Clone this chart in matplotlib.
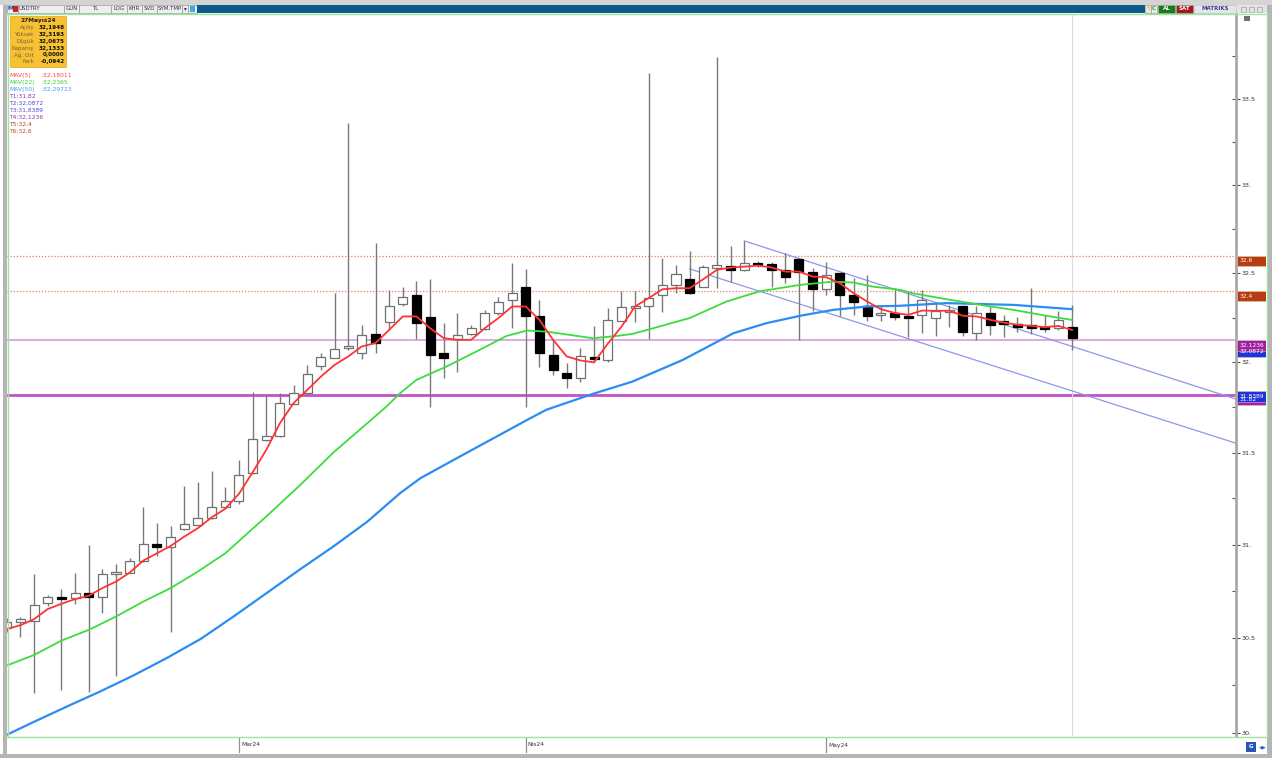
import math
import numpy as np
import matplotlib
matplotlib.use("Agg")
import matplotlib.pyplot as plt
from matplotlib.patches import Rectangle
from matplotlib.lines import Line2D
from matplotlib.ticker import FixedLocator, FixedFormatter, NullFormatter

# ------------------------------------------------------------------ data
month_ticks = [17, 38, 60]
month_labels = ["Mar24", "Nis24", "May24"]

opens = [30.552, 30.584, 30.591, 30.686, 30.716, 30.712, 30.739, 30.716, 30.842, 30.848,
         30.909, 31.005, 30.986, 31.086, 31.108, 31.145, 31.204, 31.235, 31.391, 31.570,
         31.592, 31.769, 31.828, 31.980, 32.026, 32.078, 32.050, 32.160, 32.224, 32.324,
         32.378, 32.254, 32.050, 32.130, 32.157, 32.185, 32.275, 32.350, 32.424, 32.260,
         32.039, 31.939, 31.915, 32.026, 32.010, 32.233, 32.303, 32.313, 32.376, 32.433,
         32.467, 32.424, 32.532, 32.542, 32.520, 32.560, 32.551, 32.519, 32.581, 32.509,
         32.409, 32.503, 32.376, 32.312, 32.265, 32.275, 32.256, 32.263, 32.247, 32.285,
         32.312, 32.166, 32.278, 32.233, 32.215, 32.209, 32.199, 32.190, 32.1948]
highs = [30.607, 30.614, 30.842, 30.727, 30.762, 30.849, 30.998, 30.869, 30.896, 30.929,
         31.203, 31.116, 31.101, 31.319, 31.337, 31.397, 31.312, 31.461, 31.837, 31.818,
         31.831, 31.874, 31.985, 32.050, 32.387, 33.363, 32.207, 32.673, 32.406, 32.424,
         32.458, 32.468, 32.218, 32.275, 32.209, 32.293, 32.364, 32.557, 32.523, 32.346,
         32.125, 31.998, 32.078, 32.205, 32.305, 32.397, 32.397, 33.655, 32.585, 32.544,
         32.627, 32.549, 33.749, 32.652, 32.684, 32.571, 32.566, 32.613, 32.585, 32.528,
         32.562, 32.505, 32.472, 32.490, 32.321, 32.415, 32.397, 32.406, 32.340, 32.321,
         32.321, 32.312, 32.312, 32.265, 32.252, 32.415, 32.265, 32.289, 32.3193]
lows = [30.532, 30.507, 30.210, 30.671, 30.225, 30.682, 30.216, 30.635, 30.299, 30.846,
        30.905, 30.936, 30.534, 31.080, 31.105, 31.140, 31.197, 31.221, 31.385, 31.565,
        31.588, 31.767, 31.825, 31.958, 32.024, 32.068, 32.017, 32.050, 32.181, 32.317,
        32.132, 31.754, 31.911, 31.948, 32.153, 32.181, 32.265, 32.190, 31.754, 31.973,
        31.928, 31.858, 31.892, 32.004, 32.004, 32.230, 32.226, 32.128, 32.282, 32.387,
        32.383, 32.421, 32.415, 32.452, 32.515, 32.536, 32.424, 32.447, 32.125, 32.289,
        32.378, 32.260, 32.265, 32.228, 32.228, 32.237, 32.143, 32.166, 32.147, 32.196,
        32.147, 32.125, 32.153, 32.143, 32.171, 32.158, 32.171, 32.181, 32.0675]
closes = [30.584, 30.600, 30.677, 30.718, 30.707, 30.742, 30.721, 30.844, 30.852, 30.909,
          31.005, 30.989, 31.041, 31.110, 31.146, 31.203, 31.235, 31.380, 31.575, 31.592,
          31.773, 31.831, 31.935, 32.028, 32.073, 32.087, 32.151, 32.108, 32.312, 32.363,
          32.222, 32.041, 32.023, 32.151, 32.192, 32.278, 32.340, 32.387, 32.260, 32.054,
          31.958, 31.915, 32.036, 32.017, 32.234, 32.308, 32.316, 32.359, 32.433, 32.494,
          32.387, 32.533, 32.548, 32.517, 32.557, 32.545, 32.519, 32.481, 32.509, 32.409,
          32.490, 32.378, 32.340, 32.260, 32.275, 32.252, 32.250, 32.346, 32.284, 32.289,
          32.171, 32.278, 32.209, 32.213, 32.199, 32.190, 32.185, 32.237, 32.1333]

ma5 = [30.547, 30.568, 30.600, 30.654, 30.682, 30.707, 30.725, 30.766, 30.801, 30.849,
       30.914, 30.953, 30.993, 31.043, 31.089, 31.147, 31.194, 31.275, 31.392, 31.515,
       31.662, 31.773, 31.846, 31.920, 31.985, 32.032, 32.088, 32.107, 32.181, 32.256,
       32.256, 32.190, 32.134, 32.125, 32.125, 32.190, 32.247, 32.312, 32.312, 32.237,
       32.125, 32.032, 32.010, 31.999, 32.103, 32.198, 32.312, 32.359, 32.409, 32.415,
       32.415, 32.466, 32.519, 32.532, 32.537, 32.543, 32.532, 32.509, 32.509, 32.481,
       32.477, 32.443, 32.387, 32.340, 32.297, 32.276, 32.265, 32.289, 32.288, 32.288,
       32.260, 32.256, 32.237, 32.222, 32.209, 32.203, 32.196, 32.203, 32.180]

ma22_x = [0, 2, 4, 6, 8, 10, 12, 14, 16, 19, 21.5, 23.9, 26.4, 27.8, 28.8, 30, 32.2, 34.6,
          36.6, 38.1, 39.5, 41.2, 42.9, 44.7, 45.8, 47.1, 50, 52.7, 55.1, 58.1, 60.5, 62,
          63.4, 65.4, 66.3, 68.8, 71.3, 73.7, 76.1, 78]
ma22_v = [30.354, 30.410, 30.486, 30.543, 30.614, 30.694, 30.766, 30.855, 30.953, 31.152,
          31.324, 31.500, 31.662, 31.754, 31.828, 31.902, 31.976, 32.068, 32.147, 32.177,
          32.171, 32.153, 32.134, 32.147, 32.158, 32.185, 32.247, 32.340, 32.397, 32.434,
          32.452, 32.447, 32.424, 32.406, 32.387, 32.353, 32.321, 32.293, 32.260, 32.2365]

ma50_x = [0, 1.9, 4.4, 6.8, 9.2, 11.7, 14.2, 16.6, 18.5, 21.5, 23.9, 26.4, 28.8, 30.3,
          33.2, 38.1, 39.5, 42.9, 45.8, 49.5, 53.2, 55.6, 58.1, 60.5, 63.0, 65.4, 68.8,
          73.7, 78]
ma50_v = [29.990, 30.055, 30.138, 30.216, 30.299, 30.393, 30.495, 30.614, 30.712, 30.868,
          30.989, 31.124, 31.279, 31.361, 31.480, 31.680, 31.736, 31.824, 31.892, 32.013,
          32.162, 32.218, 32.260, 32.293, 32.312, 32.316, 32.331, 32.321, 32.297]

# channel (trend) lines: start/end points
upper_x = [54, 90]
upper_y = [32.683, 31.795]
lower_x = [50, 90]
lower_y = [32.524, 31.552]

# level lines
T1, T2, T3, T4, T5, T6 = 31.82, 32.0872, 31.8389, 32.1236, 32.4, 32.6

y_major = [30.0, 30.5, 31.0, 31.5, 32.0, 32.5, 33.0, 33.5]
y_major_labels = ["30.", "30.5", "31.", "31.5", "32.", "32.5", "33.", "33.5"]
y_minor = [30.25, 30.75, 31.25, 31.75, 32.25, 32.75, 33.25, 33.75]

info_labels = ["Açılış", "Yüksek", "Düşük", "Kapanış", "Ağ. Ort", "Fark"]
info_values = ["32,1948", "32,3193", "32,0675", "32,1333", "0,0000", "-0,0942"]

# ------------------------------------------------------------------ figure
W, H = 1272, 758
fig = plt.figure(figsize=(W / 100, H / 100), dpi=100)
fig.patch.set_facecolor("white")


def fx(x):
    return x / W


def fy(y):
    return 1 - y / H


def frect(x, y, w, h, **kw):
    r = Rectangle((fx(x), fy(y + h)), w / W, h / H, transform=fig.transFigure, **kw)
    fig.add_artist(r)
    return r


def ftext(x, y, s, **kw):
    kw.setdefault("va", "center")
    return fig.text(fx(x), fy(y), s, **kw)


def fline(xs, ys, **kw):
    fig.add_artist(Line2D([fx(v) for v in xs], [fy(v) for v in ys],
                          transform=fig.transFigure, **kw))


PL, PR, PT, PB = 7, 1236, 14, 736
YMIN, YMAX = 29.984, 34.0
ax = fig.add_axes([fx(PL), fy(PB), (PR - PL) / W, (PB - PT) / H])
ax.set_yscale("log")
ax.set_ylim(YMIN, YMAX)
ax.set_xlim(0.02, 90)
px_per_ln = (PB - PT) / math.log(YMAX / YMIN)

# level lines
ax.axhline(T6, color="#d9805f", lw=0.9, ls=(0, (1, 1.5)), zorder=1)
ax.axhline(T5, color="#d9805f", lw=0.9, ls=(0, (1, 1.5)), zorder=1)
ax.axhline(T4, color="#e2a6e6", lw=1.4, zorder=1)
ax.axhline(T1, color="#c252c8", lw=2.0, zorder=1)
ax.axvline(78, color="#dcdcdc", lw=0.8, zorder=1)
ax.plot(upper_x, upper_y, color="#8d98e6", lw=0.9, zorder=2)
ax.plot(lower_x, lower_y, color="#8d98e6", lw=0.9, zorder=2)

# candles
n = len(closes)
bw = 0.66
kmin = math.exp(2.0 / px_per_ln)
for i in range(n):
    o, h, l, c = opens[i], highs[i], lows[i], closes[i]
    ax.vlines(i, l, h, color="#7a7a7a", lw=1.0, zorder=3)
    top, bot = max(o, c), min(o, c)
    if top / bot < kmin:
        mid = math.sqrt(top * bot)
        top, bot = mid * math.sqrt(kmin), mid / math.sqrt(kmin)
    up = c >= o
    ax.add_patch(Rectangle((i - bw / 2, bot), bw, top - bot,
                           facecolor="white" if up else "black",
                           edgecolor="#707070" if up else "black",
                           lw=0.9, zorder=4))

# moving averages
ax.plot(ma50_x, ma50_v, color="#2b8cf5", lw=1.6, zorder=5)
ax.plot(ma22_x, ma22_v, color="#3ddc3d", lw=1.3, zorder=5)
ax.plot(range(n), ma5, color="#ff3333", lw=1.3, zorder=6)

# axes styling
for s in ["left", "top", "bottom"]:
    ax.spines[s].set_visible(False)
ax.spines["right"].set_color("#a9a9a9")
ax.spines["right"].set_linewidth(2)
ax.yaxis.tick_right()
ax.yaxis.set_major_locator(FixedLocator(y_major))
ax.yaxis.set_major_formatter(FixedFormatter(y_major_labels))
ax.yaxis.set_minor_locator(FixedLocator(y_minor))
ax.yaxis.set_minor_formatter(NullFormatter())
ax.tick_params(axis="y", which="major", direction="inout", length=6, width=0.8,
               color="#555555", labelsize=4.6, labelcolor="#333333", pad=1)
ax.tick_params(axis="y", which="minor", direction="in", length=3, width=0.8,
               color="#555555")
ax.tick_params(axis="x", bottom=False, labelbottom=False)

# month labels in the date strip
xt = ax.get_xaxis_transform()
for m, lab in zip(month_ticks, month_labels):
    ax.plot([m, m], [-2 / 722, -16 / 722], transform=xt, color="#909090", lw=0.9,
            clip_on=False)
    ax.annotate(lab, xy=(m, -9 / 722), xycoords=xt, xytext=(2, 0),
                textcoords="offset pixels", fontsize=4.3, color="#333333",
                va="center", ha="left", annotation_clip=False)

# right-side value boxes
lab_ax = fig.add_axes([fx(PR), fy(PB), 30 / W, (PB - PT) / H])
lab_ax.set_yscale("log")
lab_ax.set_ylim(YMIN, YMAX)
lab_ax.set_xlim(0, 30)
lab_ax.axis("off")
boxes = [(T1, "31.82", "#a01fb0"), (T2, "32.0872", "#1f33d6"), (T3, "31.8389", "#1f33d6"),
         (T4, "32.1236", "#9c1fa6"), (T5, "32.4", "#b83c12"), (T6, "32.6", "#b83c12")]
fac = math.exp(-10.5 / px_per_ln)
for val, txt, col in boxes:
    bot = val * fac
    lab_ax.add_patch(Rectangle((1.2, bot), 28.8, val - bot, facecolor=col,
                               edgecolor="#e8c0a0", lw=0.4))
    lab_ax.text(3.5, math.sqrt(val * bot), txt, color="white", fontsize=4.3,
                va="center", ha="left")

# ------------------------------------------------------------------ frame
frect(0, 0, W, 5, facecolor="#d4d4d4", edgecolor="none")
frect(3, 5, 4, 750, facecolor="#b5b5b5", edgecolor="none")
frect(1267, 5, 5, 750, facecolor="#b5b5b5", edgecolor="none")
frect(0, 754, W, 4, facecolor="#b5b5b5", edgecolor="none")
fline([7.5, 7.5], [13, 736.5], color="#9ee49e", lw=1.0)
fline([1266.5, 1266.5], [13, 736.5], color="#9ee49e", lw=1.0)
fline([7, 1267], [736.5, 736.5], color="#9ee49e", lw=1.0)
fline([7, 1267], [13.5, 13.5], color="#9ee49e", lw=1.0)

# toolbar
buttons = [(7, 18, ""), (18, 64, "USDTRY"), (64, 79, "GUN"), (79, 111, "TL"),
           (111, 127, "LOG"), (127, 142, "KHR"), (142, 157, "SVD"),
           (157, 182, "SYM.TMP"), (182, 188, "▾"), (188, 197, "")]
for x0, x1, t in buttons:
    frect(x0, 5, x1 - x0, 8, facecolor="#eeeeee", edgecolor="#9a9a9a", lw=0.5)
    if t:
        ftext((x0 + x1) / 2 if t != "USDTRY" else x0 + 11, 9, t, fontsize=4.0,
              color="#303050", ha="center")
ftext(10, 9, "M", fontsize=4.4, color="#2040a0", ha="center", fontweight="bold")
frect(13, 6.5, 5, 5, facecolor="#d02020", edgecolor="none")
frect(190, 6.5, 5, 5, facecolor="#40a8e8", edgecolor="none")
frect(197, 5, 948, 8, facecolor="#0c5a8a", edgecolor="none")
frect(1145, 5, 6, 8, facecolor="#e8e8d8", edgecolor="#9a9a9a", lw=0.5)
ftext(1148, 9, "ϟ", fontsize=4.5, color="#f0a000", ha="center")
frect(1151, 5, 6, 8, facecolor="#e8e8e8", edgecolor="#9a9a9a", lw=0.5)
ftext(1154, 9, "C", fontsize=4.0, color="#20a040", ha="center", fontweight="bold")
frect(1158, 5, 17, 8, facecolor="#197a19", edgecolor="#9a9a9a", lw=0.5)
ftext(1166.5, 9, "AL", fontsize=4.0, color="white", ha="center", fontweight="bold")
frect(1176, 5, 17, 8, facecolor="#a31818", edgecolor="#9a9a9a", lw=0.5)
ftext(1184.5, 9, "SAT", fontsize=4.0, color="white", ha="center", fontweight="bold")
frect(1194, 5, 42, 8, facecolor="#e4e4ec", edgecolor="#c0c0c0", lw=0.5)
ftext(1215, 9, "MATRIKS", fontsize=4.0, color="#404088", ha="center", fontweight="bold")
frect(1237, 5, 30, 8, facecolor="#e4e4e4", edgecolor="none")
for xx in (1241, 1249, 1257):
    frect(xx, 7, 5, 5, facecolor="#e4e4e4", edgecolor="#a0a0a0", lw=0.5)
frect(1244, 16, 6, 5, facecolor="#707070", edgecolor="none")

# info box
frect(10, 16.5, 56, 50, facecolor="#f7c232", edgecolor="#e3a51e", lw=0.5)
ftext(38, 20.5, "27Mayıs24", fontsize=4.2, color="#202020", ha="center",
      fontweight="bold")
for k, (lb, vv) in enumerate(zip(info_labels, info_values)):
    yy = 27.7 + k * 6.8
    ftext(34, yy, lb, fontsize=4.1, color="#7a6040", ha="right")
    ftext(64.5, yy, vv, fontsize=4.1, color="#101010", ha="right", fontweight="bold")

# legend text
legend_rows = [("MAV(5)", ":32,18011", "#ff4040"), ("MAV(22)", ":32,2365", "#3ad03a"),
               ("MAV(50)", ":32,29723", "#3d9cff")]
for k, (a, b, col) in enumerate(legend_rows):
    yy = 75.7 + k * 6.9
    ftext(9.3, yy, a, fontsize=4.3, color=col, ha="left")
    ftext(41.5, yy, b, fontsize=4.3, color=col, ha="left")
t_rows = [("T1:31,82", "#9a33b8"), ("T2:32,0872", "#4b4bd6"), ("T3:31,8389", "#4b4bd6"),
          ("T4:32,1236", "#9a33b8"), ("T5:32,4", "#b4481c"), ("T6:32,6", "#b4481c")]
for k, (a, col) in enumerate(t_rows):
    yy = 96.3 + k * 7.0
    ftext(9.3, yy, a, fontsize=4.3, color=col, ha="left")

# bottom-right icons
frect(1246, 742, 10, 10, facecolor="#2a55b8", edgecolor="none")
ftext(1251, 747, "G", fontsize=4.0, color="white", ha="center", fontweight="bold")
ftext(1263, 747, "◀▶", fontsize=3.6, color="#3060c0", ha="center")

fig.savefig("out.png", dpi=100)
